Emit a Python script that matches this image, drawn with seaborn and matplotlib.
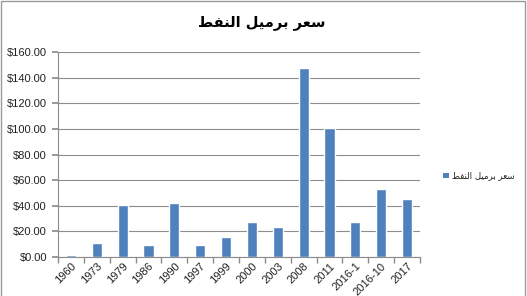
import matplotlib
matplotlib.use("Agg")
import matplotlib.pyplot as plt
import seaborn as sns
import pandas as pd
from matplotlib.patches import Rectangle
from matplotlib.ticker import FuncFormatter, FixedLocator

# ---- data ----
categories = ["1960", "1973", "1979", "1986", "1990", "1997", "1999", "2000",
              "2003", "2008", "2011", "2016-1", "2016-10", "2017"]
prices = [1.8, 10.6, 40.2, 9.3, 41.8, 9.3, 15.8, 27.5, 23.1, 147.6, 100.4,
          27.5, 53.4, 44.9]
series_name = "سعر برميل النفط"
title_text = "سعر برميل النفط"

# ---- minimal Arabic shaping (presentation forms, visual order) ----
FORMS = {  # iso, fin, ini, med
    "ا": (0xFE8D, 0xFE8E, None, None),
    "ب": (0xFE8F, 0xFE90, 0xFE91, 0xFE92),
    "ر": (0xFEAD, 0xFEAE, None, None),
    "س": (0xFEB1, 0xFEB2, 0xFEB3, 0xFEB4),
    "ط": (0xFEC1, 0xFEC2, 0xFEC3, 0xFEC4),
    "ع": (0xFEC9, 0xFECA, 0xFECB, 0xFECC),
    "ف": (0xFED1, 0xFED2, 0xFED3, 0xFED4),
    "ل": (0xFEDD, 0xFEDE, 0xFEDF, 0xFEE0),
    "م": (0xFEE1, 0xFEE2, 0xFEE3, 0xFEE4),
    "ن": (0xFEE5, 0xFEE6, 0xFEE7, 0xFEE8),
    "ي": (0xFEF1, 0xFEF2, 0xFEF3, 0xFEF4),
}


def shape(text):
    out = []
    n = len(text)
    for i, ch in enumerate(text):
        if ch not in FORMS:
            out.append(ch)
            continue
        f = FORMS[ch]
        prev = text[i - 1] if i > 0 else None
        nxt = text[i + 1] if i < n - 1 else None
        join_prev = prev in FORMS and FORMS[prev][2] is not None
        join_next = nxt in FORMS and f[2] is not None
        if join_prev and join_next:
            code = f[3]
        elif join_prev:
            code = f[1]
        elif join_next:
            code = f[2]
        else:
            code = f[0]
        out.append(chr(code))
    return "".join(reversed(out))


df = pd.DataFrame({"year": categories, "price": prices, "series": series_name})

sns.set_theme(style="white")
plt.rcParams["font.family"] = ["Liberation Sans", "DejaVu Sans"]

fig = plt.figure(figsize=(5.27, 2.96), dpi=100)
ax = fig.add_axes([58 / 527, 1 - 257 / 296, (420 - 58) / 527, (257 - 52) / 296])

bar_color = "#4F81BD"
sns.barplot(data=df, x="year", y="price", hue="series", palette=[bar_color],
            width=0.39, ax=ax, legend=False, saturation=1)

ax.set_ylim(0, 160)
ax.set_xlim(-0.5, len(categories) - 0.5)
ax.set_yticks(range(0, 161, 20))
ax.yaxis.set_major_formatter(FuncFormatter(lambda v, p: f"${v:.2f}"))
ax.grid(axis="y", color="#8c8c8c", linewidth=0.8)
ax.set_axisbelow(True)
ax.set_xlabel("")
ax.set_ylabel("")

for s in ["top", "right"]:
    ax.spines[s].set_visible(False)
for s in ["left", "bottom"]:
    ax.spines[s].set_color("#8c8c8c")
    ax.spines[s].set_linewidth(0.8)

ax.tick_params(axis="y", labelsize=8, colors="#8c8c8c", labelcolor="#222222",
               length=4, direction="out", left=True, pad=4)
ax.tick_params(axis="x", which="major", length=0, labelsize=8,
               labelcolor="#222222", pad=3)
ax.xaxis.set_minor_locator(FixedLocator([i - 0.5 for i in range(len(categories) + 1)]))
ax.tick_params(axis="x", which="minor", length=4, color="#8c8c8c",
               direction="out", bottom=True)
plt.setp(ax.get_xticklabels(), rotation=45, ha="right", rotation_mode="anchor")

# title
fig.text(262 / 527, 1 - 23 / 296, shape(title_text), ha="center", va="center",
         fontsize=10.5, fontweight="bold", color="black",
         family=["DejaVu Sans"])

# legend
fig.patches.append(Rectangle((443 / 527, 1 - 178 / 296), 6 / 527, 5 / 296,
                             transform=fig.transFigure, facecolor=bar_color,
                             edgecolor="none"))
fig.text(452 / 527, 1 - 175.5 / 296, shape(series_name), ha="left", va="center",
         fontsize=6.2, color="#222222", family=["DejaVu Sans"])

# chart border
fig.patches.append(Rectangle((0.5 / 527, -0.01), 524.5 / 527, 1 - 1.5 / 296 + 0.01,
                             transform=fig.transFigure, facecolor="none",
                             edgecolor="#9a9a9a", linewidth=1.0))

fig.savefig("out.png", dpi=100)
